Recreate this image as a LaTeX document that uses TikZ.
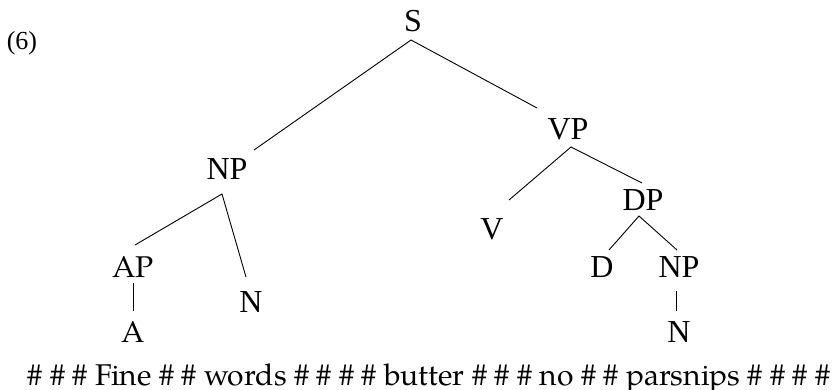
\documentclass[tikz,border=0pt]{standalone}
\usepackage{fontspec}
\setmainfont{Liberation Serif}
\newfontfamily\pal{TeX Gyre Pagella}
\begin{document}
\begin{tikzpicture}[x=1pt,y=-1pt,
  lab/.style={inner sep=0pt,anchor=base,font=\fontsize{32}{36}\selectfont},
  plab/.style={inner sep=0pt,anchor=base,font=\pal\fontsize{30}{34}\selectfont},
  edge/.style={line width=0.9pt}]
\useasboundingbox (0,0) rectangle (838,390);
\node[lab,font=\fontsize{26}{30}\selectfont] (ex) at (22,50) {(6)};
\node[lab] (S) at (413,32) {S};
\node[lab] (NP) at (227,180) {NP};
\node[lab] (VP) at (568,140) {VP};
\node[plab] (AP) at (133,277) {AP};
\node[lab] (N) at (251,312) {N};
\node[plab] (A) at (133,342) {A};
\node[lab] (V) at (492,240) {V};
\node[lab] (DP) at (643,211) {DP};
\node[lab] (D) at (602,277) {D};
\node[lab] (NPb) at (679,277) {NP};
\node[lab] (Nb) at (679,342) {N};
\node[plab] (words) at (429,385) {\# \# \# Fine \# \# words \# \# \# \# butter \# \# \# no \# \# parsnips \# \# \# \#};
\draw[edge] ([shift={(27,-30)}]NP.base) -- ([shift={(-2,8)}]S.base) -- ([shift={(-31,-32)}]VP.base);
\draw[edge] ([shift={(2,-32)}]AP.base) -- ([shift={(-5,14)}]NP.base) -- ([shift={(-5,-35)}]N.base);
\draw[edge] ([shift={(0,6)}]AP.base) -- ([shift={(0,-31)}]A.base);
\draw[edge] ([shift={(17,-40)}]V.base) -- ([shift={(3,7)}]VP.base) -- ([shift={(-1,-28)}]DP.base);
\draw[edge] ([shift={(7,-27)}]D.base) -- ([shift={(-4,5)}]DP.base) -- ([shift={(-2,-27)}]NPb.base);
\draw[edge] ([shift={(-3,14)}]NPb.base) -- ([shift={(-3,-31)}]Nb.base);
\end{tikzpicture}
\end{document}
